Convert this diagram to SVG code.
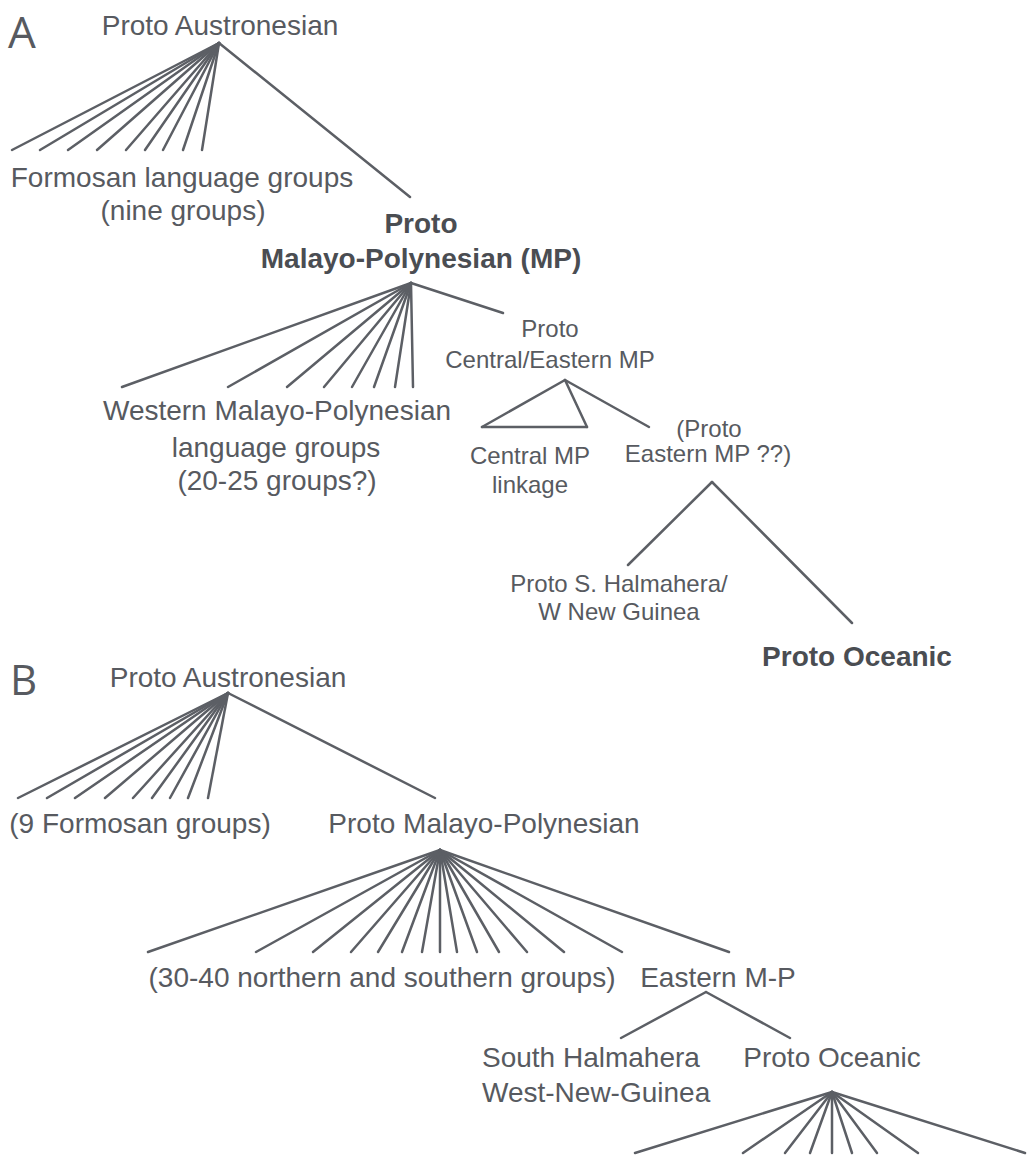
<svg xmlns="http://www.w3.org/2000/svg" width="1027" height="1155" viewBox="0 0 1027 1155">
<style>
.t{font-family:"Liberation Sans",Arial,sans-serif;fill:#575a60;text-anchor:middle}
.s28{font-size:28px}
.s24{font-size:24px}
.b{font-weight:bold;fill:#4a4d52}
.lbl{font-family:"Open Sans","DejaVu Sans",sans-serif;fill:#575a60;font-size:44px}
.c line{stroke:#5c5f65;stroke-width:2.5;stroke-linecap:round}
</style>
<rect width="1027" height="1155" fill="#ffffff"/>
<text class="lbl" x="8" y="48">A</text>
<text class="lbl" x="10" y="695" style="font-size:42px">B</text>
<g id="connectors" class="c">
<g id="a-pan">
<line x1="219" y1="43" x2="12" y2="150"/>
<line x1="219" y1="43" x2="40" y2="150"/>
<line x1="219" y1="43" x2="68" y2="150"/>
<line x1="219" y1="43" x2="97" y2="150"/>
<line x1="219" y1="43" x2="126" y2="150"/>
<line x1="219" y1="43" x2="145" y2="150"/>
<line x1="219" y1="43" x2="163" y2="150"/>
<line x1="219" y1="43" x2="183" y2="150"/>
<line x1="219" y1="43" x2="202" y2="150"/>
<line x1="219" y1="43" x2="410" y2="197"/>
</g>
<g id="a-mp">
<line x1="411" y1="283" x2="122" y2="387"/>
<line x1="411" y1="283" x2="228" y2="387"/>
<line x1="411" y1="283" x2="287" y2="387"/>
<line x1="411" y1="283" x2="324" y2="387"/>
<line x1="411" y1="283" x2="352" y2="387"/>
<line x1="411" y1="283" x2="374" y2="387"/>
<line x1="411" y1="283" x2="395" y2="387"/>
<line x1="411" y1="283" x2="413" y2="387"/>
<line x1="411" y1="283" x2="503" y2="313"/>
</g>
<g id="a-cemp">
<line x1="565" y1="380" x2="482" y2="427"/>
<line x1="565" y1="380" x2="587" y2="427"/>
<line x1="482" y1="427" x2="587" y2="427"/>
<line x1="565" y1="380" x2="649" y2="427"/>
</g>
<g id="a-emp">
<line x1="712" y1="482" x2="628" y2="565"/>
<line x1="712" y1="482" x2="852" y2="623"/>
</g>
<g id="b-pan">
<line x1="228" y1="693" x2="18" y2="798"/>
<line x1="228" y1="693" x2="47" y2="798"/>
<line x1="228" y1="693" x2="75" y2="798"/>
<line x1="228" y1="693" x2="105" y2="798"/>
<line x1="228" y1="693" x2="133" y2="798"/>
<line x1="228" y1="693" x2="152" y2="798"/>
<line x1="228" y1="693" x2="170" y2="798"/>
<line x1="228" y1="693" x2="188" y2="798"/>
<line x1="228" y1="693" x2="208" y2="798"/>
<line x1="228" y1="693" x2="435" y2="798"/>
</g>
<g id="b-mp">
<line x1="440" y1="850" x2="148" y2="952"/>
<line x1="440" y1="850" x2="256" y2="952"/>
<line x1="440" y1="850" x2="313" y2="952"/>
<line x1="440" y1="850" x2="351" y2="952"/>
<line x1="440" y1="850" x2="378" y2="952"/>
<line x1="440" y1="850" x2="402" y2="952"/>
<line x1="440" y1="850" x2="422" y2="952"/>
<line x1="440" y1="850" x2="440" y2="952"/>
<line x1="440" y1="850" x2="457" y2="952"/>
<line x1="440" y1="850" x2="477" y2="952"/>
<line x1="440" y1="850" x2="499" y2="952"/>
<line x1="440" y1="850" x2="527" y2="952"/>
<line x1="440" y1="850" x2="564" y2="952"/>
<line x1="440" y1="850" x2="622" y2="952"/>
<line x1="440" y1="850" x2="729" y2="952"/>
</g>
<g id="b-emp">
<line x1="706" y1="992" x2="621" y2="1038"/>
<line x1="706" y1="992" x2="790" y2="1038"/>
</g>
<g id="b-poc">
<line x1="832" y1="1092" x2="635" y2="1153"/>
<line x1="832" y1="1092" x2="743" y2="1153"/>
<line x1="832" y1="1092" x2="785" y2="1153"/>
<line x1="832" y1="1092" x2="810" y2="1153"/>
<line x1="832" y1="1092" x2="832" y2="1153"/>
<line x1="832" y1="1092" x2="852" y2="1153"/>
<line x1="832" y1="1092" x2="877" y2="1153"/>
<line x1="832" y1="1092" x2="918" y2="1153"/>
<line x1="832" y1="1092" x2="1025" y2="1153"/>
</g>
</g>
<g id="a-proto-austronesian"><text class="t s28" x="220" y="35">Proto Austronesian</text></g>
<g id="a-formosan"><text class="t s28" x="182" y="187">Formosan language groups</text><text class="t s28" x="183" y="220">(nine groups)</text></g>
<g id="a-pmp"><text class="t s28 b" x="421" y="233">Proto</text><text class="t s28 b" x="421" y="268">Malayo-Polynesian (MP)</text></g>
<g id="a-wmp"><text class="t s28" x="277" y="420">Western Malayo-Polynesian</text><text class="t s28" x="276" y="457">language groups</text><text class="t s28" x="277" y="490">(20-25 groups?)</text></g>
<g id="a-pcemp"><text class="t s24" x="550" y="337">Proto</text><text class="t s24" x="550" y="368">Central/Eastern MP</text></g>
<g id="a-cmp"><text class="t s24" x="530" y="464">Central MP</text><text class="t s24" x="530" y="493">linkage</text></g>
<g id="a-pemp"><text class="t s24" x="709" y="437">(Proto</text><text class="t s24" x="708" y="462">Eastern MP ??)</text></g>
<g id="a-pshwng"><text class="t s24" x="619" y="592">Proto S. Halmahera/</text><text class="t s24" x="619" y="620">W New Guinea</text></g>
<g id="a-poc"><text class="t s28 b" x="857" y="666">Proto Oceanic</text></g>
<g id="b-proto-austronesian"><text class="t s28" x="228" y="687">Proto Austronesian</text></g>
<g id="b-formosan"><text class="t s28" x="140" y="833">(9 Formosan groups)</text></g>
<g id="b-pmp"><text class="t s28" x="484" y="833">Proto Malayo-Polynesian</text></g>
<g id="b-groups"><text class="t s28" x="382" y="987">(30-40 northern and southern groups)</text></g>
<g id="b-emp-node"><text class="t s28" x="718" y="987">Eastern M-P</text></g>
<g id="b-shwng"><text class="t s28" x="482" y="1067" style="text-anchor:start">South Halmahera</text><text class="t s28" x="482" y="1102" style="text-anchor:start">West-New-Guinea</text></g>
<g id="b-poc-node"><text class="t s28" x="832" y="1067">Proto Oceanic</text></g>
</svg>
